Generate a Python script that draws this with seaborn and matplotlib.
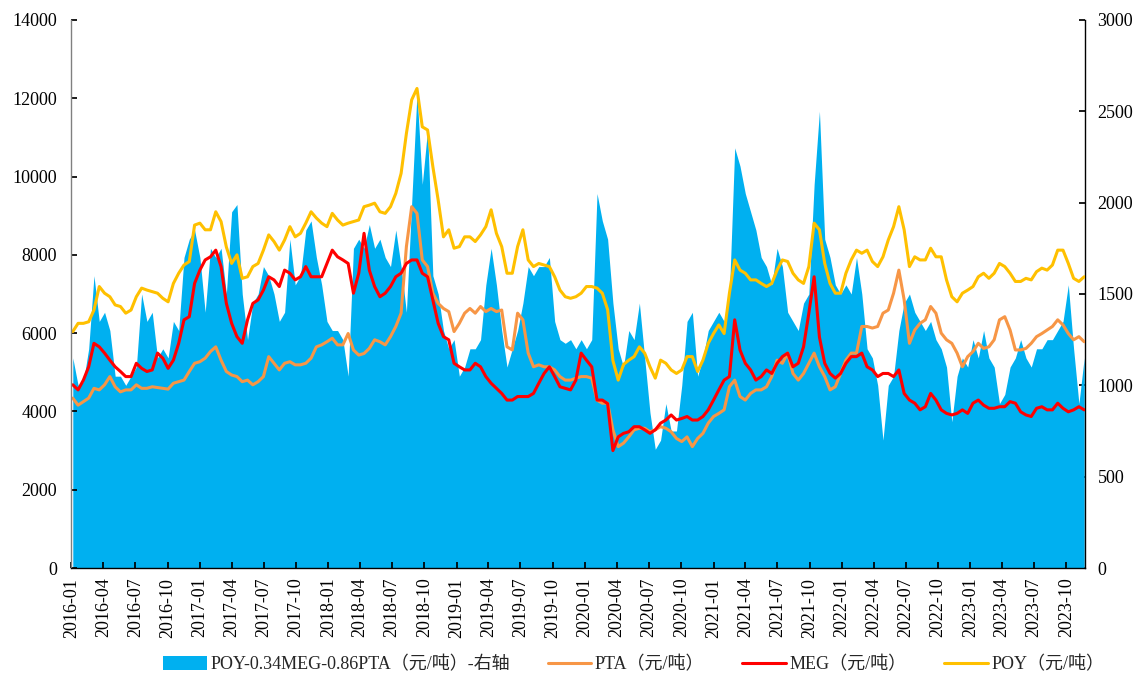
import pandas as pd
import numpy as np
import matplotlib
matplotlib.use('Agg')
import matplotlib.pyplot as plt
import matplotlib.dates as mdates
import seaborn as sns

# readings taken off the chart twice a month, from early Jan 2016 to late Nov 2023
dates = pd.date_range('2016-01-05', '2023-11-21', periods=192)

# POY-0.34MEG-0.86PTA spread (right axis)
spread = [
    1150, 1000, 1020, 1200, 1600, 1350, 1400, 1300, 1050, 1050, 1000, 1050,
    1100, 1500, 1350, 1400, 1150, 1200, 1150, 1350, 1300, 1700, 1800, 1850,  # 2016
    1700, 1400, 1750, 1700, 1750, 1500, 1950, 1990, 1500, 1250, 1450, 1500,
    1650, 1600, 1500, 1350, 1400, 1800, 1550, 1600, 1850, 1900, 1700, 1550,  # 2017
    1350, 1300, 1300, 1250, 1050, 1750, 1800, 1750, 1880, 1750, 1800, 1700,
    1650, 1850, 1650, 1400, 2000, 2600, 2100, 2400, 1600, 1500, 1300, 1200,  # 2018
    1250, 1050, 1100, 1200, 1200, 1250, 1550, 1750, 1550, 1300, 1100, 1200,
    1300, 1450, 1650, 1600, 1650, 1650, 1700, 1350, 1250, 1230, 1250, 1200,  # 2019
    1250, 1200, 1250, 2050, 1900, 1800, 1450, 1200, 1100, 1300, 1250, 1450,
    1150, 850, 650, 700, 900, 750, 750, 1000, 1350, 1400, 1050, 1150,  # 2020
    1300, 1350, 1400, 1350, 1500, 2300, 2200, 2050, 1950, 1850, 1700, 1650,
    1550, 1750, 1650, 1400, 1350, 1300, 1450, 1500, 2100, 2500, 1800, 1700,  # 2021
    1550, 1500, 1550, 1500, 1700, 1500, 1200, 1150, 1000, 700, 1000, 1050,
    1300, 1450, 1500, 1400, 1350, 1300, 1350, 1250, 1200, 1100, 800, 1050,  # 2022
    1150, 1100, 1250, 1150, 1300, 1150, 1100, 900, 950, 1100, 1150, 1250,
    1150, 1100, 1200, 1200, 1250, 1250, 1300, 1350, 1550, 1200, 900, 1150,  # 2023
]

pta = [
    4340, 4160, 4250, 4340, 4590, 4550, 4680, 4890, 4630, 4500, 4550, 4550,
    4680, 4590, 4590, 4630, 4610, 4590, 4570, 4720, 4760, 4800, 5020, 5230,
    5270, 5360, 5530, 5650, 5310, 5020, 4930, 4890, 4760, 4800, 4680, 4760,
    4890, 5400, 5230, 5060, 5230, 5270, 5190, 5190, 5230, 5360, 5650, 5700,
    5780, 5870, 5700, 5700, 5990, 5570, 5440, 5480, 5610, 5830, 5780, 5700,
    5910, 6170, 6510, 8210, 9230, 9060, 7870, 7700, 7020, 6760, 6630, 6550,
    6040, 6250, 6510, 6630, 6510, 6680, 6550, 6630, 6550, 6590, 5650, 5570,
    6510, 6340, 5490, 5140, 5190, 5140, 5140, 5060, 4890, 4800, 4800, 4850,
    4890, 4890, 4850, 4290, 4210, 4210, 3530, 3100, 3190, 3350, 3530, 3570,
    3570, 3480, 3530, 3610, 3570, 3480, 3310, 3230, 3350, 3100, 3310, 3440,
    3700, 3870, 3950, 4040, 4630, 4800, 4380, 4290, 4460, 4550, 4550, 4630,
    4890, 5310, 5230, 5490, 4970, 4800, 4970, 5230, 5490, 5140, 4890, 4550,
    4630, 4970, 5310, 5490, 5490, 6170, 6170, 6130, 6170, 6510, 6590, 7020,
    7610, 6850, 5740, 6080, 6250, 6340, 6680, 6510, 6000, 5830, 5740, 5490,
    5140, 5400, 5530, 5740, 5610, 5650, 5830, 6340, 6420, 6080, 5570, 5570,
    5610, 5740, 5910, 5990, 6080, 6170, 6340, 6210, 5990, 5830, 5910, 5780,
]

meg = [
    4680, 4550, 4800, 5140, 5740, 5650, 5490, 5310, 5140, 5020, 4890, 4890,
    5230, 5100, 5020, 5060, 5490, 5360, 5100, 5310, 5740, 6340, 6420, 7270,
    7610, 7870, 7950, 8120, 7700, 6760, 6250, 5910, 5740, 6340, 6760, 6850,
    7100, 7440, 7360, 7190, 7610, 7530, 7360, 7440, 7700, 7440, 7440, 7440,
    7780, 8120, 7950, 7870, 7780, 7020, 7530, 8550, 7610, 7190, 6930, 7020,
    7190, 7440, 7530, 7780, 7870, 7870, 7530, 7440, 6850, 6250, 5910, 5830,
    5230, 5140, 5060, 5060, 5230, 5140, 4890, 4720, 4590, 4460, 4290, 4290,
    4380, 4380, 4380, 4460, 4720, 4970, 5140, 4890, 4630, 4590, 4550, 4800,
    5490, 5310, 5140, 4290, 4290, 4200, 3000, 3350, 3440, 3480, 3610, 3610,
    3530, 3440, 3530, 3700, 3780, 3910, 3780, 3820, 3870, 3780, 3780, 3870,
    4040, 4290, 4550, 4800, 4890, 6340, 5570, 5230, 5060, 4800, 4890, 5060,
    4970, 5230, 5400, 5490, 5140, 5230, 5650, 6510, 7440, 5900, 5230, 4970,
    4850, 4970, 5230, 5400, 5400, 5490, 5140, 5060, 4890, 4970, 4970, 4890,
    5060, 4460, 4290, 4210, 4040, 4120, 4460, 4290, 4040, 3950, 3910, 3950,
    4040, 3950, 4210, 4290, 4160, 4080, 4080, 4120, 4120, 4250, 4210, 3990,
    3910, 3870, 4080, 4120, 4040, 4040, 4210, 4080, 3990, 4040, 4120, 4040,
]

poy = [
    6040, 6250, 6250, 6290, 6590, 7190, 7020, 6930, 6720, 6680, 6510, 6590,
    6930, 7150, 7100, 7060, 7020, 6890, 6800, 7270, 7530, 7740, 7830, 8760,
    8810, 8640, 8640, 9100, 8850, 8200, 7780, 8000, 7400, 7440, 7700, 7780,
    8120, 8510, 8340, 8120, 8380, 8720, 8460, 8550, 8810, 9100, 8940, 8810,
    8720, 9060, 8890, 8760, 8810, 8850, 8890, 9230, 9270, 9320, 9100, 9060,
    9230, 9570, 10080, 11100, 11960, 12250, 11270, 11190, 10250, 9400, 8460, 8640,
    8170, 8210, 8460, 8460, 8340, 8510, 8720, 9150, 8550, 8210, 7530, 7530,
    8210, 8640, 7870, 7700, 7780, 7740, 7700, 7440, 7100, 6930, 6890, 6930,
    7020, 7190, 7190, 7150, 7020, 6600, 5300, 4800, 5200, 5310, 5400, 5650,
    5490, 5140, 4850, 5310, 5230, 5060, 4970, 5060, 5400, 5400, 5020, 5310,
    5740, 5990, 6210, 5990, 7020, 7870, 7610, 7530, 7360, 7360, 7270, 7190,
    7270, 7610, 7870, 7830, 7530, 7360, 7270, 7700, 8810, 8640, 7780, 7270,
    7020, 7020, 7530, 7870, 8120, 8040, 8120, 7830, 7700, 7950, 8380, 8720,
    9230, 8640, 7700, 7950, 7870, 7870, 8170, 7950, 7950, 7360, 6930, 6800,
    7020, 7100, 7190, 7440, 7530, 7400, 7530, 7780, 7700, 7530, 7320, 7320,
    7400, 7360, 7570, 7660, 7610, 7740, 8120, 8120, 7780, 7400, 7320, 7440,
]

df = pd.DataFrame({'date': dates, 'spread': spread,
                   'PTA': pta, 'MEG': meg, 'POY': poy})

sns.set_theme(style='ticks')
plt.rcParams['font.family'] = ['Liberation Serif', 'Noto Sans CJK SC']
plt.rcParams['axes.unicode_minus'] = False

fig, ax = plt.subplots(figsize=(11.42, 6.77), dpi=100)
fig.subplots_adjust(left=0.0622, right=0.950, top=0.9705, bottom=0.161)
ax2 = ax.twinx()

# spread as area on the right axis, behind the price lines
ax2.fill_between(df['date'], df['spread'], color='#00B0F0', lw=0)
sns.lineplot(data=df, x='date', y='PTA', ax=ax, color='#F79646', lw=2.2)
sns.lineplot(data=df, x='date', y='MEG', ax=ax, color='#FF0000', lw=2.2)
sns.lineplot(data=df, x='date', y='POY', ax=ax, color='#FFC000', lw=2.2)
ax.set_zorder(ax2.get_zorder() + 1)
ax.patch.set_visible(False)

ax.set_xlim(pd.Timestamp('2015-12-31'), pd.Timestamp('2023-11-23'))
ax.set_ylim(0, 14000)
ax2.set_ylim(0, 3000)
ax.set_yticks(range(0, 14001, 2000))
ax2.set_yticks(range(0, 3001, 500))
ax.set_xlabel('')
ax.set_ylabel('')
ax2.set_ylabel('')

ax.xaxis.set_major_locator(mdates.MonthLocator(bymonth=[1, 4, 7, 10]))
ax.xaxis.set_major_formatter(mdates.DateFormatter('%Y-%m'))
ax.tick_params(axis='x', rotation=90, direction='in', length=4, pad=7,
               labelsize=13, colors='black')
ax.tick_params(axis='y', direction='in', length=4, pad=10, labelsize=13,
               colors='black', left=True)
ax2.tick_params(axis='y', direction='in', length=4, pad=9, labelsize=13,
                colors='black', right=True)

for a in (ax, ax2):
    a.spines['top'].set_visible(False)
ax.spines['right'].set_visible(False)
ax2.spines['left'].set_visible(False)
ax2.spines['bottom'].set_visible(False)
ax.spines['left'].set_color('#808080')
ax.spines['bottom'].set_color('black')
ax2.spines['right'].set_color('black')
for s in ('left', 'bottom'):
    ax.spines[s].set_linewidth(1.0)
ax2.spines['right'].set_linewidth(1.0)

handles = [ax2.collections[0]] + ax.lines[:3]
labels = ['POY-0.34MEG-0.86PTA（元/吨）-右轴', 'PTA（元/吨）', 'MEG（元/吨）', 'POY（元/吨）']
fig.legend(handles, labels, loc='center', bbox_to_anchor=(0.555, 0.018), ncol=4,
           frameon=False, fontsize=13, handlelength=2.4, handleheight=0.8,
           columnspacing=2.1, handletextpad=0.2)

fig.savefig('out.png', dpi=100)
